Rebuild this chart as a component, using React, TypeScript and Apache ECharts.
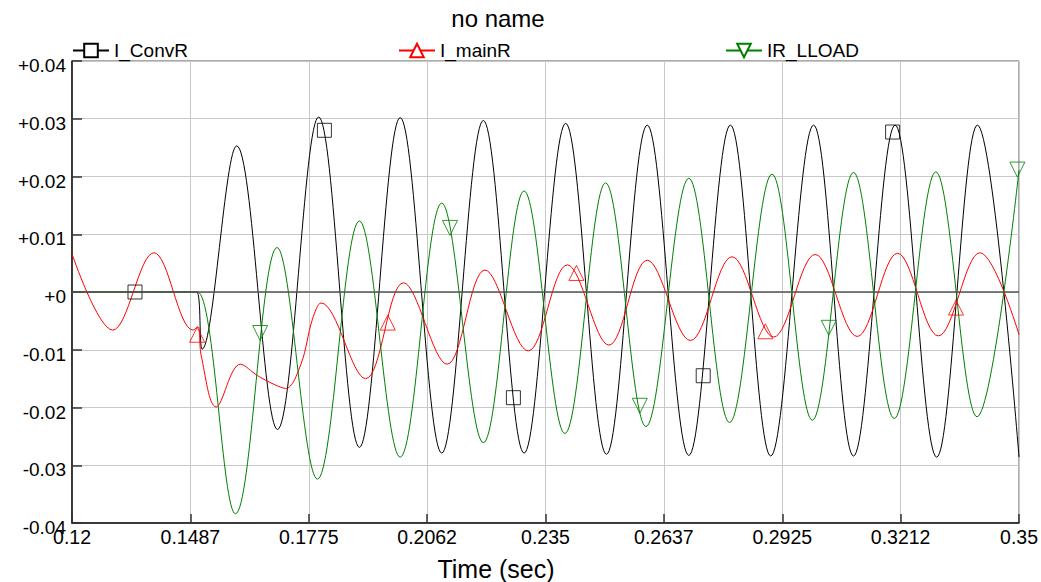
import React, { useEffect, useRef } from 'react';
import * as echarts from 'echarts';

const T0 = 0.12;
const X_SPAN = 0.23;
const X_STEP = 0.02875;
const Y_MIN = -0.04;
const Y_MAX = 0.04;
const Y_STEP = 0.01;

const seriesNames = ['I_ConvR', 'I_mainR', 'IR_LLOAD'];

// I_ConvR (black) — extrema
const convT = [0.12, 0.135, 0.148, 0.1503, 0.1516, 0.16, 0.1699, 0.1799, 0.1898, 0.1997, 0.2098, 0.2199, 0.2298, 0.2399, 0.2498, 0.2597, 0.2698, 0.2799, 0.2897, 0.3001, 0.3098, 0.3199, 0.33, 0.3399, 0.35];
const convV = [0, 0, 0, 0, -0.0099, 0.0253, -0.0238, 0.0303, -0.0269, 0.0302, -0.0279, 0.0297, -0.0279, 0.0292, -0.0281, 0.0289, -0.0283, 0.0289, -0.0284, 0.0289, -0.0284, 0.0289, -0.0286, 0.0289, -0.0286];

// I_mainR (red)
const mainT = [0.12, 0.1299, 0.1399, 0.1494, 0.1506, 0.1514, 0.155, 0.1609, 0.1651, 0.1691, 0.1719, 0.1756, 0.1784, 0.1805, 0.1913, 0.2005, 0.2111, 0.2203, 0.2308, 0.2403, 0.2504, 0.2597, 0.2702, 0.2803, 0.2904, 0.3005, 0.3107, 0.3205, 0.3304, 0.3405, 0.35];
const mainV = [0.0066, -0.0066, 0.0068, -0.0066, -0.006, -0.0111, -0.0199, -0.0125, -0.0145, -0.016, -0.0167, -0.0125, -0.0047, -0.0019, -0.015, 0.0016, -0.0125, 0.0038, -0.0102, 0.0047, -0.0092, 0.0055, -0.0084, 0.0061, -0.0078, 0.0065, -0.0077, 0.0067, -0.0076, 0.0068, -0.0074];

// IR_LLOAD (green)
const loadT = [0.12, 0.135, 0.148, 0.1505, 0.1597, 0.1698, 0.1796, 0.1898, 0.1997, 0.2098, 0.2199, 0.2298, 0.2397, 0.2496, 0.2594, 0.2698, 0.2797, 0.29, 0.2998, 0.3098, 0.3197, 0.3298, 0.3398, 0.35];
const loadV = [0, 0, 0, 0, -0.0384, 0.0077, -0.0324, 0.0123, -0.0286, 0.0154, -0.0261, 0.0175, -0.0245, 0.0189, -0.0233, 0.0197, -0.0226, 0.0204, -0.0222, 0.0207, -0.0219, 0.0208, -0.0216, 0.0211];

// Marker positions
const convMkT = [0.1353, 0.1813, 0.2272, 0.2733, 0.3193];
const convMkV = [0, 0.028, -0.0183, -0.0145, 0.0277];
const mainMkT = [0.1504, 0.1967, 0.2425, 0.2884, 0.3347];
const mainMkV = [-0.0074, -0.0053, 0.0033, -0.0068, -0.0027];
const loadMkT = [0.1657, 0.2118, 0.2579, 0.3038, 0.3496];
const loadMkV = [-0.0071, 0.0111, -0.0197, -0.0062, 0.0212];

const FONT = '"Liberation Sans", Arial, Helvetica, sans-serif';
const BLACK = '#000000';
const RED = '#ff0000';
const GREEN = '#008000';

const pairs = (ts: number[], vs: number[]) => ts.map((t, i) => [t - T0, vs[i]]);

const legendBase = (name: string, left: number) => ({
  data: [name],
  left,
  top: 41,
  padding: 0,
  itemWidth: 36,
  itemHeight: 17,
  itemGap: 0,
  selectedMode: false,
  textStyle: { fontSize: 19, color: '#000', fontFamily: FONT },
});

export default function App() {
  const ref = useRef<HTMLDivElement>(null);
  useEffect(() => {
    if (!ref.current) return;
    const chart = echarts.init(ref.current, null, { renderer: 'svg' });
    chart.setOption({
      animation: false,
      backgroundColor: '#ffffff',
      textStyle: { fontFamily: FONT },
      title: [
        {
          text: 'no name', left: 498, top: 6, textAlign: 'center', padding: 0,
          textStyle: { fontSize: 24, fontWeight: 'normal', color: '#000', fontFamily: FONT },
        },
        {
          text: 'Time (sec)', left: 496, top: 556, textAlign: 'center', padding: 0,
          textStyle: { fontSize: 25, fontWeight: 'normal', color: '#000', fontFamily: FONT },
        },
      ],
      legend: [
        legendBase(seriesNames[0], 72),
        legendBase(seriesNames[1], 398),
        legendBase(seriesNames[2], 725),
      ],
      grid: {
        left: 72, right: 20, top: 61, bottom: 59,
        show: true, borderColor: '#555', borderWidth: 1, backgroundColor: 'transparent',
      },
      xAxis: {
        type: 'value',
        min: 0,
        max: X_SPAN,
        interval: X_STEP,
        axisLine: { show: true, onZero: false, lineStyle: { color: '#111', width: 1.5 } },
        axisTick: { show: true, inside: true, length: 9, lineStyle: { color: '#333', width: 1.5 } },
        splitLine: { show: true, lineStyle: { color: '#c8c8c8', width: 1 } },
        axisLabel: {
          margin: 4, fontSize: 19.5, color: '#000', fontFamily: FONT,
          showMinLabel: true, showMaxLabel: true,
          formatter: (v: number) => String(Math.floor((v + T0) * 10000 + 1e-6) / 10000),
        },
      },
      yAxis: {
        type: 'value',
        min: Y_MIN,
        max: Y_MAX,
        interval: Y_STEP,
        axisLine: { show: true, onZero: false, lineStyle: { color: '#111', width: 1.5 } },
        axisTick: { show: true, inside: true, length: 10, lineStyle: { color: '#333', width: 1.5 } },
        splitLine: { show: true, lineStyle: { color: '#c8c8c8', width: 1 } },
        axisLabel: {
          margin: 6, fontSize: 19, color: '#000', fontFamily: FONT,
          verticalAlign: 'top', lineHeight: 9,
          showMinLabel: true, showMaxLabel: true,
          formatter: (v: number) => (Math.abs(v) < 1e-9 ? '+0' : (v > 0 ? '+' : '') + v.toFixed(2)),
        },
      },
      series: [
        {
          name: seriesNames[0], type: 'line', data: pairs(convT, convV),
          smooth: 0.36, showSymbol: false, symbol: 'rect', symbolSize: 14,
          color: BLACK,
          lineStyle: { color: BLACK, width: 1 },
          itemStyle: { color: '#fff', borderColor: BLACK, borderWidth: 1 },
          z: 3,
          markLine: {
            silent: true, symbol: ['none', 'none'], label: { show: false },
            lineStyle: { color: '#555', width: 1.5, type: 'solid' },
            data: [{ yAxis: 0 }],
          },
        },
        {
          name: seriesNames[1], type: 'line', data: pairs(mainT, mainV),
          smooth: 0.36, showSymbol: false, symbol: 'triangle', symbolSize: 14,
          color: RED,
          lineStyle: { color: RED, width: 1 },
          itemStyle: { color: '#fff', borderColor: RED, borderWidth: 1 },
          z: 3,
        },
        {
          name: seriesNames[2], type: 'line', data: pairs(loadT, loadV),
          smooth: 0.36, showSymbol: false, symbol: 'triangle', symbolRotate: 180, symbolSize: 14,
          color: GREEN,
          lineStyle: { color: GREEN, width: 1 },
          itemStyle: { color: '#fff', borderColor: GREEN, borderWidth: 1 },
          z: 3,
        },
        {
          name: 'I_ConvR markers', type: 'scatter', data: pairs(convMkT, convMkV),
          symbol: 'rect', symbolSize: 14, silent: true, z: 4,
          itemStyle: { color: 'rgba(0,0,0,0)', borderColor: BLACK, borderWidth: 1 },
        },
        {
          name: 'I_mainR markers', type: 'scatter', data: pairs(mainMkT, mainMkV),
          symbol: 'triangle', symbolSize: 15, silent: true, z: 4,
          itemStyle: { color: 'rgba(0,0,0,0)', borderColor: RED, borderWidth: 1 },
        },
        {
          name: 'IR_LLOAD markers', type: 'scatter', data: pairs(loadMkT, loadMkV),
          symbol: 'triangle', symbolRotate: 180, symbolSize: 15, silent: true, z: 4,
          itemStyle: { color: 'rgba(0,0,0,0)', borderColor: GREEN, borderWidth: 1 },
        },
      ],
    });
    return () => chart.dispose();
  }, []);
  return (
    <div
      ref={ref}
      style={{ position: 'fixed', left: 0, top: 0, width: 1041, height: 582, background: '#fff' }}
    />
  );
}
